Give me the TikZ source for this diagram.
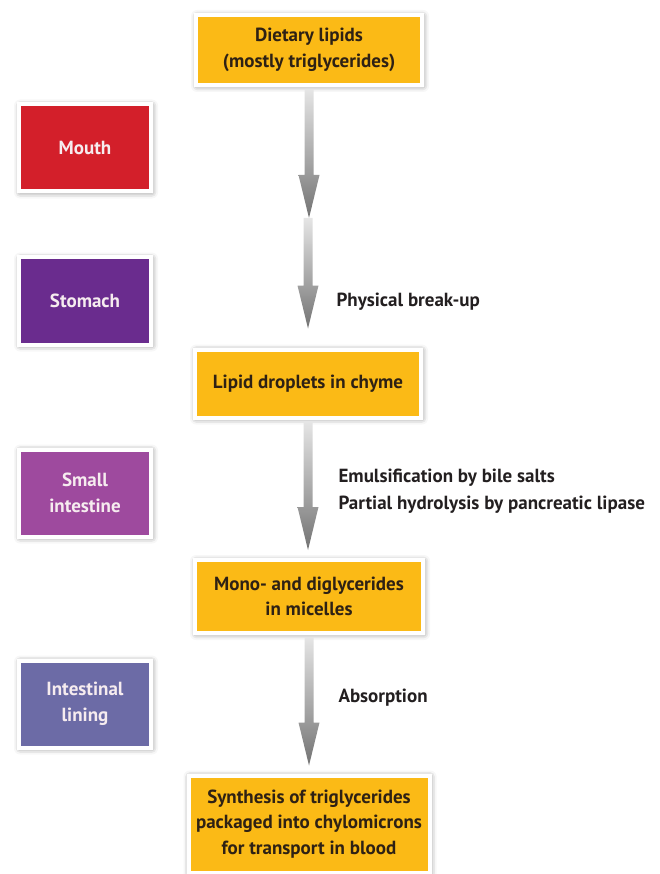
\documentclass[tikz,border=0pt]{standalone}
\usepackage{fontspec}
\setmainfont{PT Sans}
\usetikzlibrary{calc,shadows.blur}

\definecolor{stageyellow}{HTML}{FBBA16}
\definecolor{stagetext}{HTML}{2E2114}
\definecolor{mouthred}{HTML}{D31F2A}
\definecolor{stomachpurple}{HTML}{6A2C8E}
\definecolor{intestinepurple}{HTML}{9E4A9E}
\definecolor{liningblue}{HTML}{6C6BA6}
\definecolor{organtext}{HTML}{F6ECEF}
\definecolor{labeltext}{HTML}{231F20}

\begin{document}
\begin{tikzpicture}[
  x=1pt, y=-1pt,
  font=\bfseries\fontsize{19}{25.5}\selectfont,
  product/.style={
    draw=white,
    line width=4pt,
    fill=stageyellow,
    text=stagetext,
    align=center,
    minimum width=226pt,
    inner sep=0pt,
    blur shadow={shadow xshift=1pt, shadow yshift=-1pt,
      shadow blur radius=6pt, shadow opacity=50}
  },
  organ/.style={
    draw=white,
    line width=4pt,
    text=organtext,
    align=center,
    minimum width=132pt,
    minimum height=87pt,
    inner sep=0pt,
    blur shadow={shadow xshift=1pt, shadow yshift=-1pt,
      shadow blur radius=6pt, shadow opacity=50}
  },
  fatflow/.style={
    draw=none,
    top color=black!10,
    bottom color=black!55,
    to path={let \p1=(\tikztostart), \p2=(\tikztotarget) in
      (\x1-4.5pt,\y1) -- (\x1+4.5pt,\y1) -- (\x1+4.5pt,\y2+43pt)
      -- (\x1+10.5pt,\y2+43pt) -- (\x1,\y2) -- (\x1-10.5pt,\y2+43pt)
      -- (\x1-4.5pt,\y2+43pt) -- cycle}
  },
  process/.style={
    anchor=west,
    align=left,
    text=labeltext,
    font=\bfseries\fontsize{19}{27}\selectfont
  }
]
\useasboundingbox (0,0) rectangle (659,874);

% Stages of the lipid, top to bottom.
\node[product, minimum height=70pt] (diet) at (309,50)
  {Dietary lipids\\(mostly triglycerides)};
\node[product, minimum height=68pt] (drop) at (308,383.5)
  {Lipid droplets in chyme};
\node[product, minimum height=73pt, minimum width=228pt] (micelle) at (309,596.5)
  {Mono- and diglycerides\\in micelles};
\node[product, minimum height=97pt, minimum width=241pt] (chylo) at (309,824)
  {Synthesis of triglycerides\\packaged into chylomicrons\\for transport in blood};

% Where each step happens.
\node[organ, fill=mouthred] (mouth) at (85,148) {Mouth};
\node[organ, fill=stomachpurple] (stomach) at (85,301) {Stomach};
\node[organ, fill=intestinepurple] (small) at (85,493) {Small\\intestine};
\node[organ, fill=liningblue] (lining) at (85,704) {Intestinal\\lining};

% Shaded arrows between the stages.
\coordinate (mouthEnd) at (308,218);
\path[fatflow] ([yshift=-2pt]diet.south) to (mouthEnd);
\path[fatflow] (mouthEnd) to ([yshift=19pt]drop.north);
\path[fatflow] ([yshift=-2pt]drop.south) to ([yshift=8pt]micelle.north);
\path[fatflow] ([yshift=-2pt]micelle.south) to ([yshift=8pt]chylo.north);

% What happens along each arrow.
\node[process] (breakup) at (333,302) {Physical break-up};
\node[process] (emulsify) at (335,491.5)
  {Emulsification by bile salts\\Partial hydrolysis by pancreatic lipase};
\node[process] (absorb) at (335,698) {Absorption};

\end{tikzpicture}
\end{document}
